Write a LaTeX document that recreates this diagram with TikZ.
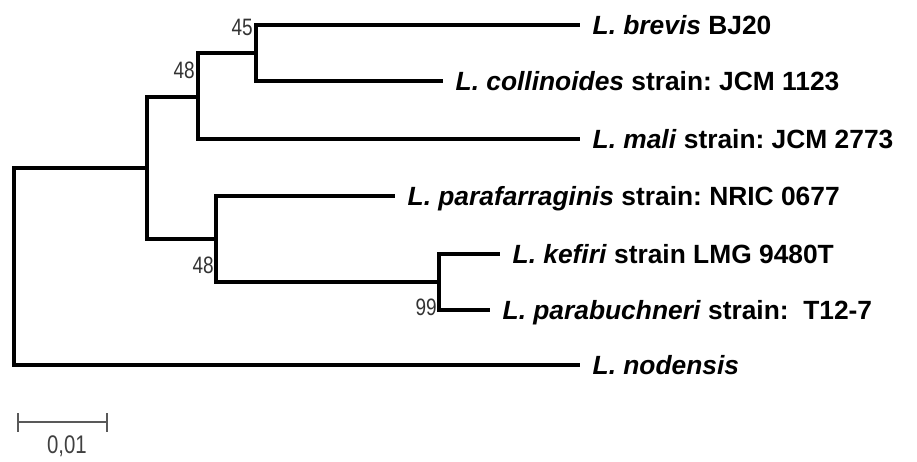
\documentclass[tikz,border=0pt]{standalone}
\usepackage{fontspec}
\setmainfont{Liberation Sans}
\newfontfamily\bootfont[FakeStretch=0.8]{Liberation Sans}
\usetikzlibrary{positioning}
\frenchspacing

\begin{document}
\begin{tikzpicture}[x=0.02cm, y=-0.02cm,
    branch/.style={line width=1.8pt, black},
    taxon/.style={anchor=west, inner xsep=7pt, inner ysep=0pt, font=\fontsize{15}{18}\selectfont\bfseries, text height=10.8pt, text depth=0pt},
    boot/.style={anchor=east, inner sep=0.5pt, font=\bootfont\fontsize{13.5}{15}\selectfont, text=black!80},
    scalebar/.style={line width=1.1pt, black!65}
]
\useasboundingbox (0,0) rectangle (917,461);

% Internal nodes
\coordinate (root) at (14,267);
\coordinate (nA) at (147,168);
\coordinate (nB) at (198,97);
\coordinate (nC) at (256,53);
\coordinate (nD) at (216,239);
\coordinate (nE) at (439,282);

% Taxa
\node[taxon] (brevis) at (580,25) {\textit{L. brevis} BJ20};
\node[taxon] (collin) at (443,81) {\textit{L. collinoides} strain: JCM 1123};
\node[taxon] (mali) at (580,139) {\textit{L. mali} strain: JCM 2773};
\node[taxon] (parafar) at (395,196) {\textit{L. parafarraginis} strain: NRIC 0677};
\node[taxon] (kefiri) at (500,254) {\textit{L. kefiri} strain LMG 9480T};
\node[taxon] (parabuch) at (490,310) {\textit{L. parabuchneri} strain:\ \ T12-7};
\node[taxon] (nodensis) at (580,365) {\textit{L. nodensis}};

% Branches
\draw[branch] (root) |- (nA);
\draw[branch] (root) |- (nodensis.west);
\draw[branch] (nA) |- (nB);
\draw[branch] (nA) |- (nD);
\draw[branch] (nB) |- (nC);
\draw[branch] (nB) |- (mali.west);
\draw[branch] (nC) |- (brevis.west);
\draw[branch] (nC) |- (collin.west);
\draw[branch] (nD) |- (parafar.west);
\draw[branch] (nD) |- (nE);
\draw[branch] (nE) |- (kefiri.west);
\draw[branch] (nE) |- (parabuch.west);

% Bootstrap values
\node[boot] (bC) at (254,27) {45};
\node[boot] (bB) at (196,70) {48};
\node[boot] (bD) at (215,265) {48};
\node[boot] (bE) at (438,307) {99};

% Scale bar
\coordinate (sL) at (18,422);
\coordinate (sR) at (107,422);
\draw[scalebar] (sL) -- (sR);
\draw[scalebar] (18,413) -- (18,432);
\draw[scalebar] (107,413) -- (107,432);
\node[font=\bootfont\fontsize{14.5}{17}\selectfont, text=black!75] (scaletext) at (67,446) {0,01};

\end{tikzpicture}
\end{document}
